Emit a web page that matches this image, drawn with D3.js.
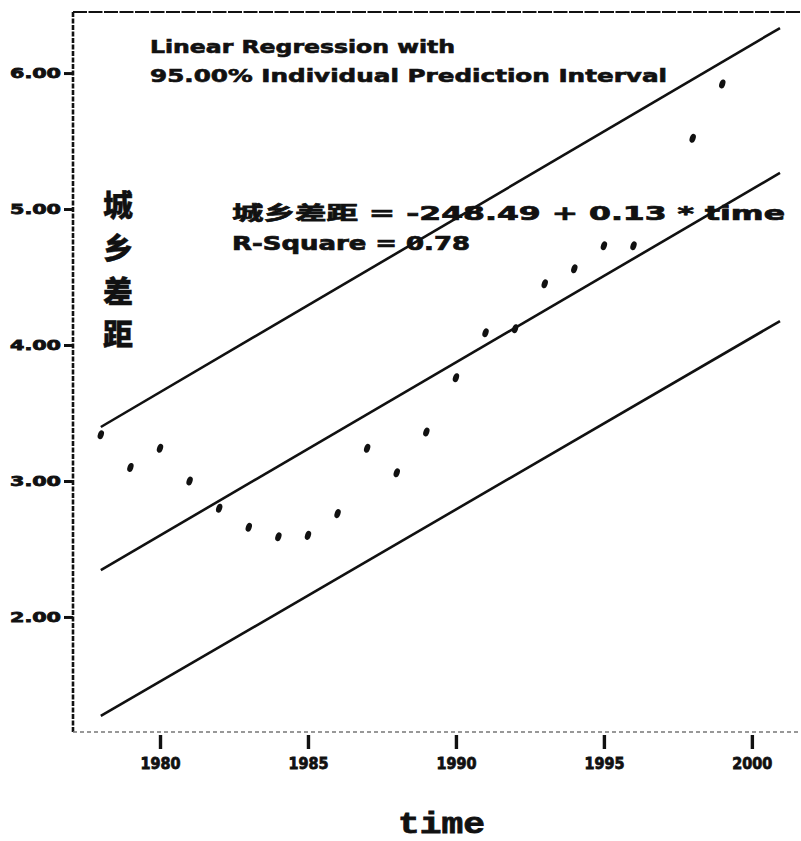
<!DOCTYPE html>
<html>
<head>
<meta charset="utf-8">
<script src="https://cdn.jsdelivr.net/npm/d3@7"></script>
<style>
  body { margin: 0; background: #fff; }
  svg { display: block; }
</style>
</head>
<body>
<svg></svg>
<script>
// data
var years  = [1978, 1979, 1980, 1981, 1982, 1983, 1984, 1985, 1986, 1987, 1988,
              1989, 1990, 1991, 1992, 1993, 1994, 1995, 1996, 1998, 1999];
var gap    = [3.34, 3.10, 3.24, 3.00, 2.80, 2.66, 2.59, 2.60, 2.76, 3.24, 3.06,
              3.36, 3.76, 4.09, 4.12, 4.45, 4.56, 4.73, 4.73, 5.52, 5.92];
var lineX     = [1978, 2000.95];
var fitY      = [2.345, 5.265];
var upperY    = [3.397, 6.331];
var lowerY    = [1.272, 4.176];
var yTicks    = [2, 3, 4, 5, 6];
var xTicks    = [1980, 1985, 1990, 1995, 2000];
var titleLines = ["Linear Regression with", "95.00% Individual Prediction Interval"];
var eqLines    = ["城乡差距 = -248.49 + 0.13 * time", "R-Square = 0.78"];
var yLabel     = ["城", "乡", "差", "距"];

var W = 801, H = 841;
var margin = { top: 12, right: 0, bottom: 109, left: 73 };

var svg = d3.select("svg").attr("width", W).attr("height", H);

var x = d3.scaleLinear().domain([1977.06, 2001.66]).range([margin.left, W - margin.right]);
var y = d3.scaleLinear().domain([1.154, 6.449]).range([H - margin.bottom, margin.top]);

var ink = "#111";

// frame: top line, left axis, bottom dotted axis
svg.append("line")
    .attr("x1", margin.left).attr("x2", W)
    .attr("y1", margin.top).attr("y2", margin.top)
    .attr("stroke", ink).attr("stroke-width", 2.2)
    .attr("stroke-dasharray", "14,1.5");
svg.append("line")
    .attr("x1", margin.left).attr("x2", margin.left)
    .attr("y1", margin.top).attr("y2", H - margin.bottom)
    .attr("stroke", ink).attr("stroke-width", 2.6)
    .attr("stroke-dasharray", "5,1.5");
svg.append("line")
    .attr("x1", margin.left).attr("x2", W)
    .attr("y1", H - margin.bottom).attr("y2", H - margin.bottom)
    .attr("stroke", "#777").attr("stroke-width", 1.3)
    .attr("stroke-dasharray", "4,3");

// y axis
var yAxis = d3.axisLeft(y).tickValues(yTicks).tickSize(9).tickPadding(3)
    .tickFormat(d3.format(".2f"));
var gy = svg.append("g").attr("transform", "translate(" + margin.left + ",0)").call(yAxis);
gy.select(".domain").remove();
gy.selectAll(".tick line").attr("stroke", ink).attr("stroke-width", 3);
gy.selectAll(".tick text")
    .attr("fill", ink).attr("stroke", ink).attr("stroke-width", 0.8)
    .style("font-family", "DejaVu Sans")
    .style("font-weight", "bold")
    .style("font-size", "14px")
    .attr("textLength", 51).attr("lengthAdjust", "spacingAndGlyphs");

// x axis
var xAxis = d3.axisBottom(x).tickValues(xTicks).tickSize(14).tickPadding(9)
    .tickFormat(d3.format("d"));
var gx = svg.append("g").attr("transform", "translate(0," + (H - margin.bottom + 3) + ")").call(xAxis);
gx.select(".domain").remove();
gx.selectAll(".tick line").attr("stroke", ink).attr("stroke-width", 3.4);
gx.selectAll(".tick text")
    .attr("fill", ink).attr("stroke", ink).attr("stroke-width", 0.8)
    .style("font-family", "DejaVu Sans")
    .style("font-weight", "bold")
    .style("font-size", "15px")
    .attr("textLength", 40).attr("lengthAdjust", "spacingAndGlyphs");

// regression line and prediction interval
function seg(vals) {
    return d3.line()
        .x(function(d, i) { return x(lineX[i]); })
        .y(function(d) { return y(d); })(vals);
}
[upperY, fitY, lowerY].forEach(function(v) {
    svg.append("path")
        .attr("d", seg(v))
        .attr("fill", "none")
        .attr("stroke", ink)
        .attr("stroke-width", 2.6);
});

// points
svg.append("g").selectAll("ellipse")
    .data(years)
    .enter().append("ellipse")
    .attr("cx", 0).attr("cy", 0)
    .attr("rx", 2.9).attr("ry", 4.6)
    .attr("transform", function(d, i) {
        return "translate(" + x(d) + "," + y(gap[i]) + ") rotate(20)";
    })
    .attr("fill", ink);

// annotation text
var titleX = [150, 150], titleY = [53, 82], titleW = [305, 517];
titleLines.forEach(function(t, i) {
    svg.append("text")
        .attr("x", titleX[i]).attr("y", titleY[i])
        .attr("textLength", titleW[i]).attr("lengthAdjust", "spacingAndGlyphs")
        .style("font-family", "DejaVu Sans")
        .style("font-weight", "bold")
        .style("font-size", "17px")
        .attr("fill", ink).attr("stroke", ink).attr("stroke-width", 0.6)
        .text(t);
});

var eqY = [220, 250], eqW = [553, 238];
eqLines.forEach(function(t, i) {
    svg.append("text")
        .attr("x", 232).attr("y", eqY[i])
        .attr("textLength", eqW[i]).attr("lengthAdjust", "spacingAndGlyphs")
        .style("font-family", "'DejaVu Sans', 'Noto Sans CJK SC'")
        .style("font-weight", "bold")
        .style("font-size", "19px")
        .attr("fill", ink).attr("stroke", ink).attr("stroke-width", 0.7)
        .text(t);
});

// vertical Chinese y label
svg.append("g").selectAll("text")
    .data(yLabel)
    .enter().append("text")
    .attr("x", 118)
    .attr("y", function(d, i) { return 216 + i * 43; })
    .attr("text-anchor", "middle")
    .style("font-family", "'Noto Sans CJK SC'")
    .style("font-weight", "900")
    .style("font-size", "30px")
    .attr("fill", ink).attr("stroke", ink).attr("stroke-width", 0.4)
    .text(function(d) { return d; });

// x label
svg.append("text")
    .attr("x", 398).attr("y", 833)
    .attr("textLength", 87).attr("lengthAdjust", "spacingAndGlyphs")
    .style("font-family", "'Liberation Mono'")
    .style("font-weight", "bold")
    .style("font-size", "30px")
    .attr("fill", ink).attr("stroke", ink).attr("stroke-width", 0.8)
    .text("time");
</script>
</body>
</html>
